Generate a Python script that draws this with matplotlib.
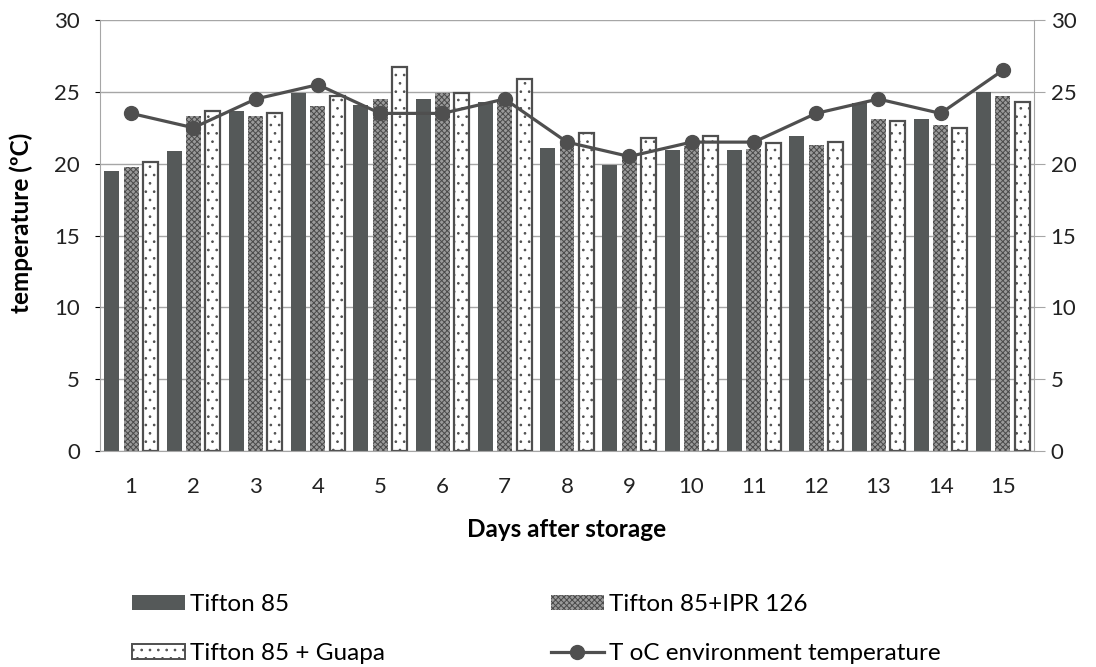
import matplotlib
matplotlib.use("Agg")
import matplotlib.pyplot as plt
import numpy as np
from matplotlib.lines import Line2D
from matplotlib.patches import Patch

plt.rcParams['font.family'] = ['Lato', 'DejaVu Sans']
plt.rcParams['hatch.linewidth'] = 0.7

days = list(range(1, 16))
tifton = [19.5, 20.9, 23.7, 24.9, 24.1, 24.5, 24.3, 21.1, 19.9, 20.95, 20.95, 21.9, 24.2, 23.1, 25.0]
tifton_ipr = [19.75, 23.3, 23.3, 24.0, 24.5, 24.9, 24.5, 21.5, 20.5, 21.2, 21.0, 21.3, 23.1, 22.7, 24.7]
tifton_guapa = [20.1, 23.7, 23.5, 24.7, 26.7, 24.9, 25.9, 22.15, 21.8, 21.9, 21.45, 21.5, 23.0, 22.5, 24.3]
env_temp = [23.5, 22.5, 24.5, 25.5, 23.5, 23.5, 24.5, 21.5, 20.5, 21.5, 21.5, 23.5, 24.5, 23.5, 26.5]

dark = '#555959'
grid = '#a6a6a6'
txt = '#222222'

fig = plt.figure(figsize=(10.96, 6.67), dpi=100)
ax = fig.add_axes([100/1096, 1 - 451/667, 934/1096, 431/667])

x = np.array(days)
w = 0.24
off = 0.31
ax.bar(x - off, tifton, w, color=dark, linewidth=0, zorder=2)
ax.bar(x, tifton_ipr, w, facecolor='#9a9a9a', edgecolor='#4a4a4a', hatch='xxxxxx', linewidth=0, zorder=2)
ax.bar(x + off, tifton_guapa, w, facecolor='white', edgecolor='#4f4f4f', hatch='..', linewidth=1.6, zorder=2)
ax.plot(x, env_temp, color='#4f4f4f', lw=2.3, marker='o', ms=10, zorder=3)

ax.set_xlim(0.5, 15.5)
ax.set_ylim(0, 30)
ax.set_yticks(range(0, 31, 5))
ax.set_xticks(days)
ax.yaxis.grid(True, color=grid, lw=1, zorder=0)
ax.set_axisbelow(True)
for s in ['left', 'right', 'bottom', 'top']:
    ax.spines[s].set_color(grid)
ax.spines['top'].set_visible(False)
ax.tick_params(axis='y', left=False, labelsize=16, labelcolor=txt, pad=11)
ax.tick_params(axis='x', length=0, labelsize=16, labelcolor=txt, pad=19)

# right-hand axis, same scale
ax2 = ax.twinx()
ax2.set_ylim(0, 30)
ax2.set_yticks(range(0, 31, 5))
for s in ['left', 'right', 'bottom', 'top']:
    ax2.spines[s].set_visible(False)
ax2.tick_params(axis='y', length=8, color=grid, labelsize=16, labelcolor=txt, pad=4)

ax.set_ylabel('temperature (ºC)', fontsize=17.5, fontweight='bold')
ax.yaxis.set_label_coords(-0.072, 0.53)
ax.set_xlabel('Days after storage', fontsize=17.5, fontweight='bold', labelpad=15)

handles = [
    Patch(facecolor=dark, linewidth=0),
    Patch(facecolor='white', edgecolor='#4f4f4f', hatch='..', linewidth=1.4),
    Patch(facecolor='#9a9a9a', edgecolor='#4a4a4a', hatch='xxxxxx', linewidth=0),
    Line2D([], [], color='#4f4f4f', lw=2.3, marker='o', ms=10),
]
labels = ['Tifton 85', 'Tifton 85 + Guapa', 'Tifton 85+IPR 126', 'T oC environment temperature']
fig.legend(handles, labels, ncol=2, loc='upper left', bbox_to_anchor=(132/1096, 1 - 594/667),
           frameon=False, fontsize=17.5, handlelength=2.2, handleheight=0.6, handletextpad=0.2,
           columnspacing=6.8, labelspacing=1.15, borderpad=0, borderaxespad=0)

fig.savefig('out.png', dpi=100)
